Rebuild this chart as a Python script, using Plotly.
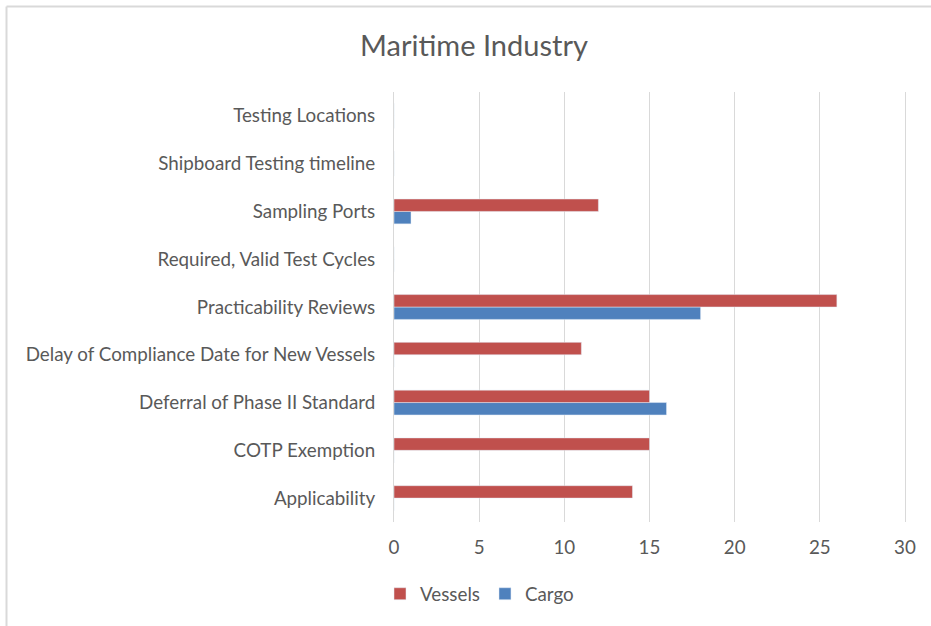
import plotly.graph_objects as go

categories = [
    "Applicability",
    "COTP Exemption",
    "Deferral of Phase II Standard",
    "Delay of Compliance Date for New Vessels",
    "Practicability Reviews",
    "Required, Valid Test Cycles",
    "Sampling Ports",
    "Shipboard Testing timeline",
    "Testing Locations",
]
vessels = [14, 15, 15, 11, 26, 0, 12, 0, 0]
cargo = [0, 0, 16, 0, 18, 0, 1, 0, 0]
x_ticks = [0, 5, 10, 15, 20, 25, 30]

W, H = 931, 626
L, R, T, B = 394, 26, 92, 104
pw, ph = W - L - R, H - T - B

def px_x(px):
    return (px - L) / pw

def px_y(py):
    return (H - B - py) / ph

FONT = "Lato"
TXT = "#595959"
GRID = "#D9D9D9"
FS = 18.8

fig = go.Figure()
fig.add_trace(go.Bar(
    y=categories, x=cargo, name="Cargo", orientation="h",
    marker=dict(color="#4F81BD"), legendrank=2,
))
fig.add_trace(go.Bar(
    y=categories, x=vessels, name="Vessels", orientation="h",
    marker=dict(color="#C0504D"), legendrank=1,
))

fig.update_layout(
    width=W, height=H,
    margin=dict(l=L, r=R, t=T, b=B),
    paper_bgcolor="white", plot_bgcolor="white",
    barmode="group", bargap=0.48, bargroupgap=0,
    font=dict(family=FONT, size=FS, color=TXT),
    title=dict(text="Maritime Industry", x=474 / W, xref="container", xanchor="center",
               y=1 - 46 / H, yref="container", yanchor="middle",
               font=dict(family=FONT, size=29, color=TXT)),
    xaxis=dict(range=[0, 30], tickvals=x_ticks, showgrid=True, gridcolor=GRID,
               gridwidth=1, zeroline=False, showline=False, ticks="",
               ticklabelstandoff=12, tickfont=dict(size=FS, color=TXT), fixedrange=True),
    yaxis=dict(categoryorder="array", categoryarray=categories, showgrid=False,
               zeroline=False, showline=True, mirror=True, linecolor=GRID, linewidth=1,
               ticks="", ticklabelstandoff=14, tickfont=dict(size=FS, color=TXT)),
    legend=dict(orientation="h", x=px_x(380), xanchor="left", y=px_y(594), yanchor="middle",
                font=dict(size=FS, color=TXT), itemwidth=30, tracegroupgap=0),
    showlegend=True,
)

# Outer chart border (top and left visible)
fig.add_shape(type="line", xref="paper", yref="paper",
              x0=px_x(6.5), x1=px_x(931), y0=px_y(6.5), y1=px_y(6.5),
              line=dict(color=GRID, width=2))
fig.add_shape(type="line", xref="paper", yref="paper",
              x0=px_x(6.5), x1=px_x(6.5), y0=px_y(6.5), y1=px_y(626),
              line=dict(color=GRID, width=2))

fig.write_html("out.html")
